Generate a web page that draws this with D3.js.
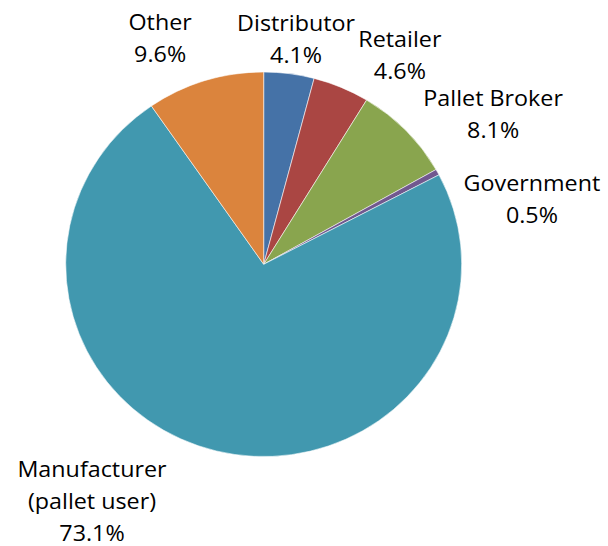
<!DOCTYPE html>
<html>
<head>
<meta charset="utf-8">
<script src="https://cdn.jsdelivr.net/npm/d3@7/dist/d3.min.js"></script>
<style>
  html, body { margin: 0; padding: 0; background: #fff; }
  svg { display: block; }
  text { font-family: "Open Sans", "Liberation Sans", sans-serif; fill: #000; }
</style>
</head>
<body>
<svg id="chart" width="608" height="546"></svg>
<script>
// Share of respondents by business type (percent)
const categories = ["Distributor", "Retailer", "Pallet Broker", "Government", "Manufacturer\n(pallet user)", "Other"];
const shares = [4.1, 4.6, 8.1, 0.5, 73.1, 9.6];
const sliceColors = ["#4572A7", "#AA4643", "#89A54E", "#71588F", "#4198AF", "#DB843D"];

// Label placement: angular shift (deg) from the slice middle and distance from the centre
const labelShift = [0.8, 10.0, 10.9, 15.0, 22.1, -7.3];
const labelDist = [227.6, 249.8, 274.2, 276, 292.4, 249];

const cx = 263.7, cy = 264.3, radius = 198, squash = 0.971;
const fontSize = 22, lineGap = 32, stretchX = 1.06;

const svg = d3.select("#chart");

// pie drawn slightly flattened vertically
const g = svg.append("g").attr("transform", `translate(${cx},${cy}) scale(1,${squash})`);

const data = categories.map((c, i) => ({ name: c, value: shares[i], color: sliceColors[i], i }));

const pie = d3.pie().sort(null).value(d => d.value);
const arc = d3.arc().innerRadius(0).outerRadius(radius);
const arcs = pie(data);

g.selectAll("path.slice")
  .data(arcs)
  .join("path")
  .attr("class", "slice")
  .attr("d", arc)
  .attr("fill", d => d.data.color)
  .attr("stroke", "#ffffff")
  .attr("stroke-opacity", 0.7)
  .attr("stroke-width", 0.8)
  .attr("vector-effect", "non-scaling-stroke");

const fmt = d3.format(".1f");

const lg = svg.append("g").attr("transform", `translate(${cx},${cy})`);

const labels = lg.selectAll("text.lbl")
  .data(arcs)
  .join("text")
  .attr("class", "lbl")
  .attr("text-anchor", "middle")
  .style("font-size", fontSize + "px");

labels.each(function (d) {
  const i = d.data.i;
  const mid = (d.startAngle + d.endAngle) / 2 + labelShift[i] * Math.PI / 180;
  const [px, py] = d3.pointRadial(mid, labelDist[i]);
  const lines = d.data.name.split("\n").concat(fmt(d.data.value) + "%");
  const n = lines.length;
  const t = d3.select(this)
    .attr("transform", `translate(${px},0) scale(${stretchX},1) translate(${-px},0)`);
  lines.forEach((ln, k) => {
    t.append("tspan")
      .attr("x", px)
      .attr("y", py + (k - (n - 1) / 2) * lineGap + fontSize * 0.36)
      .text(ln);
  });
});
</script>
</body>
</html>
